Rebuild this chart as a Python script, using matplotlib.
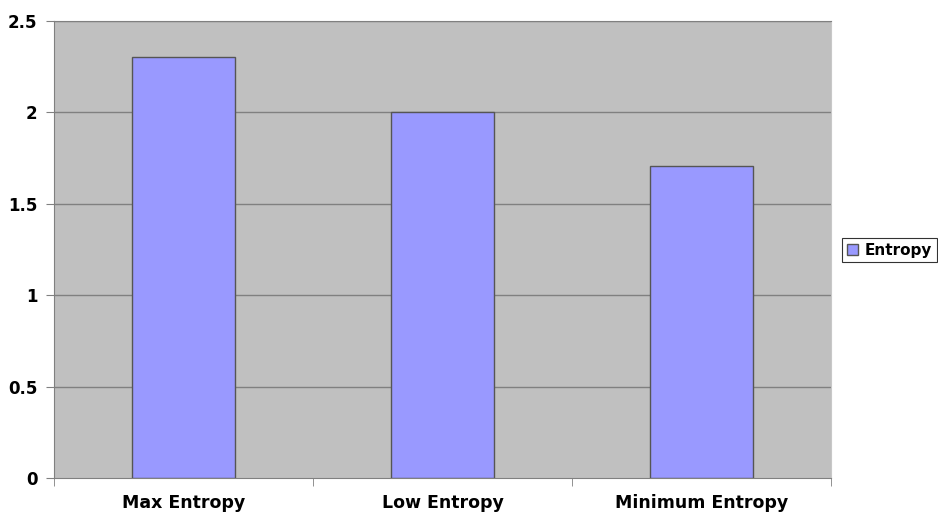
import matplotlib.pyplot as plt
import numpy as np

categories = ["Max Entropy", "Low Entropy", "Minimum Entropy"]
entropy = [2.3026, 2.0, 1.7095]
y_ticks = [0, 0.5, 1, 1.5, 2, 2.5]
y_ticklabels = ["0", "0.5", "1", "1.5", "2", "2.5"]

plt.rcParams['font.family'] = ['DejaVu Sans']
plt.rcParams['font.weight'] = 'bold'

W, H = 938, 513
fig = plt.figure(figsize=(W / 100, H / 100), dpi=100)
ax = fig.add_axes([54 / W, 1 - 478 / H, (831 - 54) / W, (478 - 21) / H])
ax.set_facecolor('#C0C0C0')

x = np.arange(len(categories))
ax.bar(x, entropy, width=0.4, color='#9999FF', edgecolor='#555555',
       linewidth=1, label='Entropy', zorder=3)

ax.set_xlim(-0.5, len(categories) - 0.5)
ax.set_ylim(0, 2.5)
ax.set_yticks(y_ticks)
ax.set_yticklabels(y_ticklabels, fontsize=12, fontweight='bold')
for yv in y_ticks[1:]:
    ax.axhline(yv, color='#808080', linewidth=1, zorder=1)

# category labels centred, ticks on the boundaries between categories
ax.set_xticks(x)
ax.set_xticklabels(categories, fontsize=12.5, fontweight='bold')
ax.tick_params(axis='x', length=0, pad=11.5)
ax.set_xticks(np.arange(-0.5, len(categories)), minor=True)
ax.tick_params(axis='x', which='minor', length=6, color='#808080')
ax.tick_params(axis='y', length=6, color='#808080', pad=6)

for side in ['left', 'bottom', 'top']:
    ax.spines[side].set_color('#808080')
ax.spines['right'].set_color('#C8C8C8')

leg = fig.legend(loc='center left', bbox_to_anchor=(842 / W, 1 - 250 / H),
                 frameon=True, fancybox=False, handlelength=0.75,
                 handleheight=0.75, handletextpad=0.45, borderpad=0.3,
                 borderaxespad=0, prop={'weight': 'bold', 'size': 11})
leg.get_frame().set_edgecolor('#000000')
leg.get_frame().set_linewidth(0.8)

fig.savefig('out.png', dpi=100)
